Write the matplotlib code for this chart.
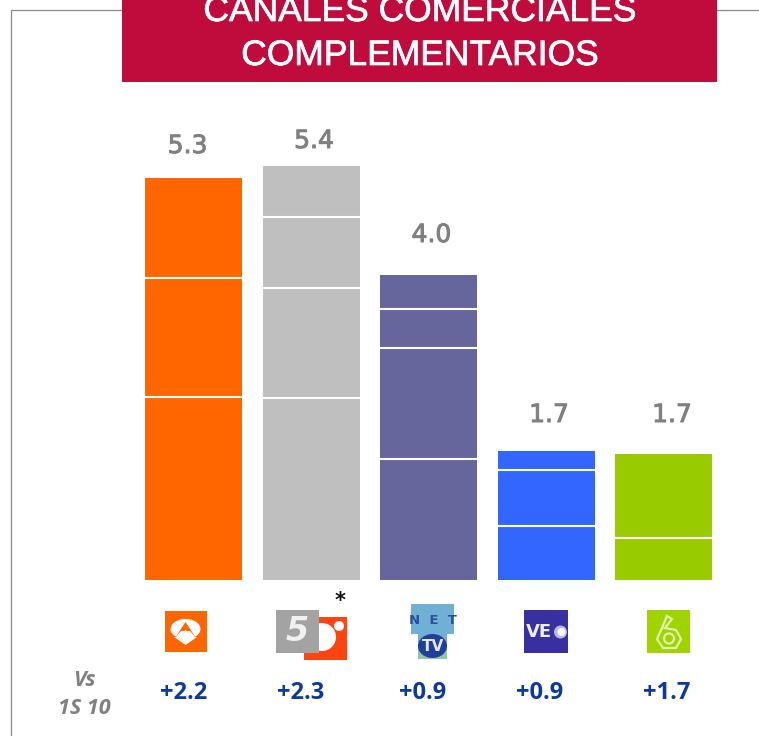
import matplotlib
matplotlib.use("Agg")
import matplotlib.pyplot as plt
import matplotlib.patheffects as pe
from matplotlib.patches import Rectangle, Ellipse, Polygon, Circle, Wedge
import numpy as np

W, H = 759, 736
channels = ["Antena 3", "Telecinco", "Net TV", "Veo", "La Sexta"]
seg_1 = [2.41, 1.57, 1.31, 0, 0]
seg_2 = [2.39, 1.45, 0.94, 0.67, 0]
seg_3 = [1.59, 1.46, 0.52, 0.44, 0]
seg_4 = [0.71, 0.74, 0.25, 0, 0]
seg_5 = [0.55, 1.11, 0, 0, 0]
segments = [seg_1, seg_2, seg_3, seg_4, seg_5]
totals = ["5.3", "5.4", "4.0", "1.7", "1.7"]
changes = ["+2.2", "+2.3", "+0.9", "+0.9", "+1.7"]
bar_colors = ["#FF6600", "#BFBFBF", "#66669C", "#3366FF", "#99CC00"]
title_lines = ["CANALES COMERCIALES", "COMPLEMENTARIOS"]

fig = plt.figure(figsize=(W / 100, H / 100), dpi=100, facecolor="white")

deco = fig.add_axes([0, 0, 1, 1])
deco.set_xlim(0, W); deco.set_ylim(H, 0); deco.axis("off")

px_unit = 117.5
left = 145; right = 712
x0 = (left - 193.5) / px_unit; x1 = (right - 193.5) / px_unit
ax = fig.add_axes([left / W, (H - 580) / H, (right - left) / W, 420 / H])
ax.set_xlim(x0, x1); ax.set_ylim(0, 420 / 76); ax.axis("off"); ax.patch.set_alpha(0)
bw = 97 / px_unit
label_x = [187.5, 314, 431.5, 549, 672]
label_y = [146, 141, 235, 415, 415]
for i, segs in enumerate(segments):
    cum = np.cumsum(segs)
    bottoms = np.concatenate([[0], cum[:-1]])
    ax.bar(i, segs, bottom=bottoms, width=bw, color=bar_colors[i], linewidth=0)
    inner = [c for c, s in zip(cum[:-1], segs[1:]) if s > 0]
    ax.hlines(inner, i - bw / 2, i + bw / 2, color="white", lw=1.5)
    deco.text(label_x[i], label_y[i], totals[i], ha="center", va="center", fontsize=18,
              color="#808080", family="DejaVu Sans",
              path_effects=[pe.withStroke(linewidth=0.7, foreground="#808080")])

# Frame
deco.plot([11, 11, 122], [736, 9.5, 9.5], color="#8C8C8C", lw=0.9, solid_joinstyle="miter")
deco.plot([717, 759], [9.5, 9.5], color="#8C8C8C", lw=0.9)

# Banner
deco.add_patch(Rectangle((122, 0), 595, 82, color="#C00C3C", lw=0, zorder=3))
for txt, y in zip(title_lines, [21, 65]):
    deco.text(419.5, y, txt, color="white", fontsize=25.5, ha="center", va="baseline",
              family="Liberation Sans", zorder=4,
              path_effects=[pe.withStroke(linewidth=0.5, foreground="white")])

# Logos
# Antena 3
deco.add_patch(Rectangle((165, 611), 42, 41, color="#FF6600", lw=0))
deco.add_patch(Ellipse((185.5, 629), 30, 20, color="white", lw=0))
deco.add_patch(Polygon([[185.5, 645], [174, 637], [197, 637]], color="white", lw=0))
deco.add_patch(Polygon([[185.5, 622], [175, 638], [181, 631], [190, 631], [196, 638]],
                       color="#FF6600", lw=0))
deco.add_patch(Polygon([[178, 637], [185.5, 630], [193, 637], [185.5, 644]], color="white", lw=0))
# Telecinco / Cuatro
deco.add_patch(Rectangle((304, 617), 43, 43, color="#FF4411", lw=0))
deco.add_patch(Circle((322, 637), 14, color="white", lw=0))
deco.add_patch(Circle((339, 626), 5, color="white", lw=0))
deco.add_patch(Rectangle((276, 610), 43, 43, color="#A3A3A3", lw=0))
deco.text(297, 631.5, "5", color="#F0F0F0", fontsize=24, ha="center", va="center",
          family="DejaVu Sans", fontweight="bold", style="italic")
deco.add_patch(Ellipse((291, 635), 7, 4, color="#A3A3A3", lw=0))
deco.text(340, 601, "*", color="#111111", fontsize=15, ha="center", va="center",
          family="DejaVu Sans", fontweight="bold")
# Net TV
deco.add_patch(Rectangle((418, 634), 29, 25, color="#8FC8A8", lw=0))
deco.add_patch(Rectangle((411, 604), 43, 30, color="#6FB0D4", lw=0))
deco.text(432.5, 620.5, "N  E  T", color="#2A4E9A", fontsize=9.5, ha="center", va="center",
          family="DejaVu Sans", fontweight="bold")
deco.add_patch(Rectangle((418, 634), 29, 8, color="#6FB0D4", lw=0))
deco.add_patch(Ellipse((432.5, 646), 29, 24, color="#1F3F9C", lw=0))
deco.text(432.5, 646.5, "TV", color="#E8E8F0", fontsize=11, ha="center", va="center",
          family="DejaVu Sans", fontweight="bold")
# Veo
deco.add_patch(Rectangle((524, 610), 44, 43, color="#3830A0", lw=0))
deco.text(525.5, 632, "VE", color="#EEEEF5", fontsize=13, ha="left", va="center",
          family="DejaVu Sans", fontweight="bold")
deco.add_patch(Circle((560.5, 632), 6.5, color="#B8B8DC", lw=0))
deco.add_patch(Circle((561.5, 632), 4, color="#F4F4F8", lw=0))
# La Sexta
deco.add_patch(Rectangle((647, 610), 43, 43, color="#9FD400", lw=0))
six = Polygon([[667, 616], [672, 619], [665, 628], [676, 630], [681, 639], [676, 648],
               [663, 648], [657, 639], [662, 628]], closed=True, fill=False,
              edgecolor="#E4F2B0", lw=1.6)
deco.add_patch(six)
deco.add_patch(Circle((669, 638.5), 5, fill=False, edgecolor="#E4F2B0", lw=1.6))

# Change row
change_x = [184, 301, 422.5, 540, 667]
for x, c in zip(change_x, changes):
    deco.text(x, 693, c, color="#0B3A9E", fontsize=17, ha="center", va="center",
              family="Open Sans", fontweight="bold")
deco.text(84, 681, "Vs", color="#808080", fontsize=15.5, ha="center", va="center",
          family="Open Sans", fontweight="bold", style="italic")
deco.text(84, 708, "1S 10", color="#808080", fontsize=15.5, ha="center", va="center",
          family="Open Sans", fontweight="bold", style="italic")

fig.savefig("out.png", dpi=100)
